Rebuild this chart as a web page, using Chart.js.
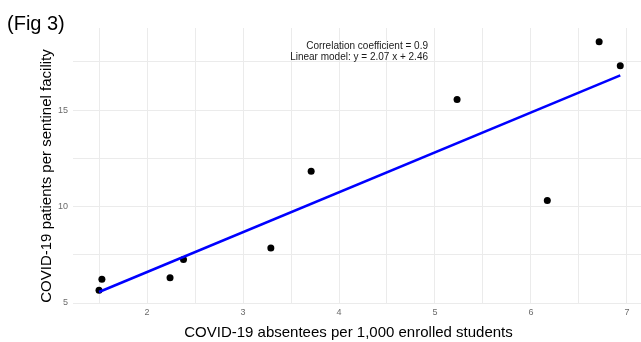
<!DOCTYPE html>
<html>
<head>
<meta charset="utf-8">
<script src="https://cdn.jsdelivr.net/npm/chart.js@4/dist/chart.umd.min.js"></script>
<style>
  html, body { margin: 0; padding: 0; background: #ffffff; }
  #wrap { width: 641px; height: 342px; }
</style>
</head>
<body>
<div id="wrap"><canvas id="c" width="641" height="342"></canvas></div>
<script>
// ---- data ----
const absentees = [1.50, 1.53, 2.24, 2.38, 3.29, 3.71, 5.23, 6.17, 6.71, 6.93];
const patients  = [5.66, 6.23, 6.31, 7.26, 7.85, 11.83, 15.54, 10.31, 18.54, 17.30];
// fitted line endpoints (y = 2.07 x + 2.46 over the data range)
const fitX = [1.50, 6.93];
const fitY = [5.57, 16.80];
// tick positions / labels
const xTicks = [1.5, 2, 2.5, 3, 3.5, 4, 4.5, 5, 5.5, 6, 6.5, 7];
const xLabels = [2, 3, 4, 5, 6, 7];
const yTicks = [5, 7.5, 10, 12.5, 15, 17.5];
const yLabels = [5, 10, 15];
const figLabel = '(Fig 3)';
const xTitle = 'COVID-19 absentees per 1,000 enrolled students';
const yTitle = 'COVID-19 patients per sentinel facility';
const annotLines = ['Correlation coefficient = 0.9', 'Linear model: y = 2.07 x + 2.46'];

const FONT = '"Liberation Sans", Arial, Helvetica, sans-serif';

const textPlugin = {
  id: 'textLayer',
  afterDraw(chart) {
    const ctx = chart.ctx;
    const ca = chart.chartArea;
    ctx.save();
    ctx.fillStyle = '#000000';
    // figure label
    ctx.font = '20px ' + FONT;
    ctx.textAlign = 'left';
    ctx.textBaseline = 'alphabetic';
    ctx.fillText(figLabel, 7, 30);
    // annotation (right aligned)
    ctx.font = '10px ' + FONT;
    ctx.fillStyle = '#1a1a1a';
    ctx.textAlign = 'right';
    ctx.fillText(annotLines[0], 428, 49);
    ctx.fillText(annotLines[1], 428, 60);
    // x axis title
    ctx.fillStyle = '#000000';
    ctx.font = '15px ' + FONT;
    ctx.textAlign = 'center';
    ctx.fillText(xTitle, 348.5, 337);
    // y axis title
    ctx.translate(51, (ca.top + ca.bottom) / 2 + 10.5);
    ctx.rotate(-Math.PI / 2);
    ctx.fillText(yTitle, 0, 0);
    ctx.restore();
  }
};

const points = absentees.map((x, i) => ({ x: x, y: patients[i] }));
const fitPts = fitX.map((x, i) => ({ x: x, y: fitY[i] }));

new Chart(document.getElementById('c'), {
  type: 'scatter',
  data: {
    datasets: [
      {
        type: 'line',
        data: fitPts,
        borderColor: '#0000ff',
        borderWidth: 2.5,
        pointRadius: 0,
        fill: false,
        order: 0
      },
      {
        type: 'scatter',
        data: points,
        backgroundColor: '#000000',
        borderWidth: 0,
        pointRadius: 3.5,
        order: 1
      }
    ]
  },
  options: {
    responsive: false,
    devicePixelRatio: 1,
    animation: false,
    layout: { autoPadding: false, padding: { left: 0, right: 0, top: 28, bottom: 0 } },
    plugins: { legend: { display: false }, tooltip: { enabled: false }, title: { display: false } },
    scales: {
      x: {
        type: 'linear',
        min: 1.229,
        max: 7.146,
        border: { display: false },
        grid: { color: '#ebebeb', lineWidth: 1, drawTicks: false },
        afterBuildTicks: (s) => { s.ticks = xTicks.map(v => ({ value: v })); },
        afterFit: (s) => { s.height = 39; s.paddingLeft = 0; s.paddingRight = 0; },
        ticks: {
          padding: 4,
          color: '#6b6b6b',
          font: { family: FONT, size: 9 },
          maxRotation: 0,
          autoSkip: false,
          callback: (v) => (xLabels.includes(v) ? String(v) : '')
        }
      },
      y: {
        type: 'linear',
        min: 5.0,
        max: 19.25,
        border: { display: false },
        grid: { color: '#ebebeb', lineWidth: 1, drawTicks: false },
        afterBuildTicks: (s) => { s.ticks = yTicks.map(v => ({ value: v })); },
        afterFit: (s) => { s.width = 73; s.paddingTop = 0; s.paddingBottom = 0; },
        ticks: {
          padding: 5,
          color: '#6b6b6b',
          font: { family: FONT, size: 9 },
          autoSkip: false,
          callback: (v) => (yLabels.includes(v) ? String(v) : '')
        }
      }
    }
  },
  plugins: [textPlugin]
});
</script>
</body>
</html>
